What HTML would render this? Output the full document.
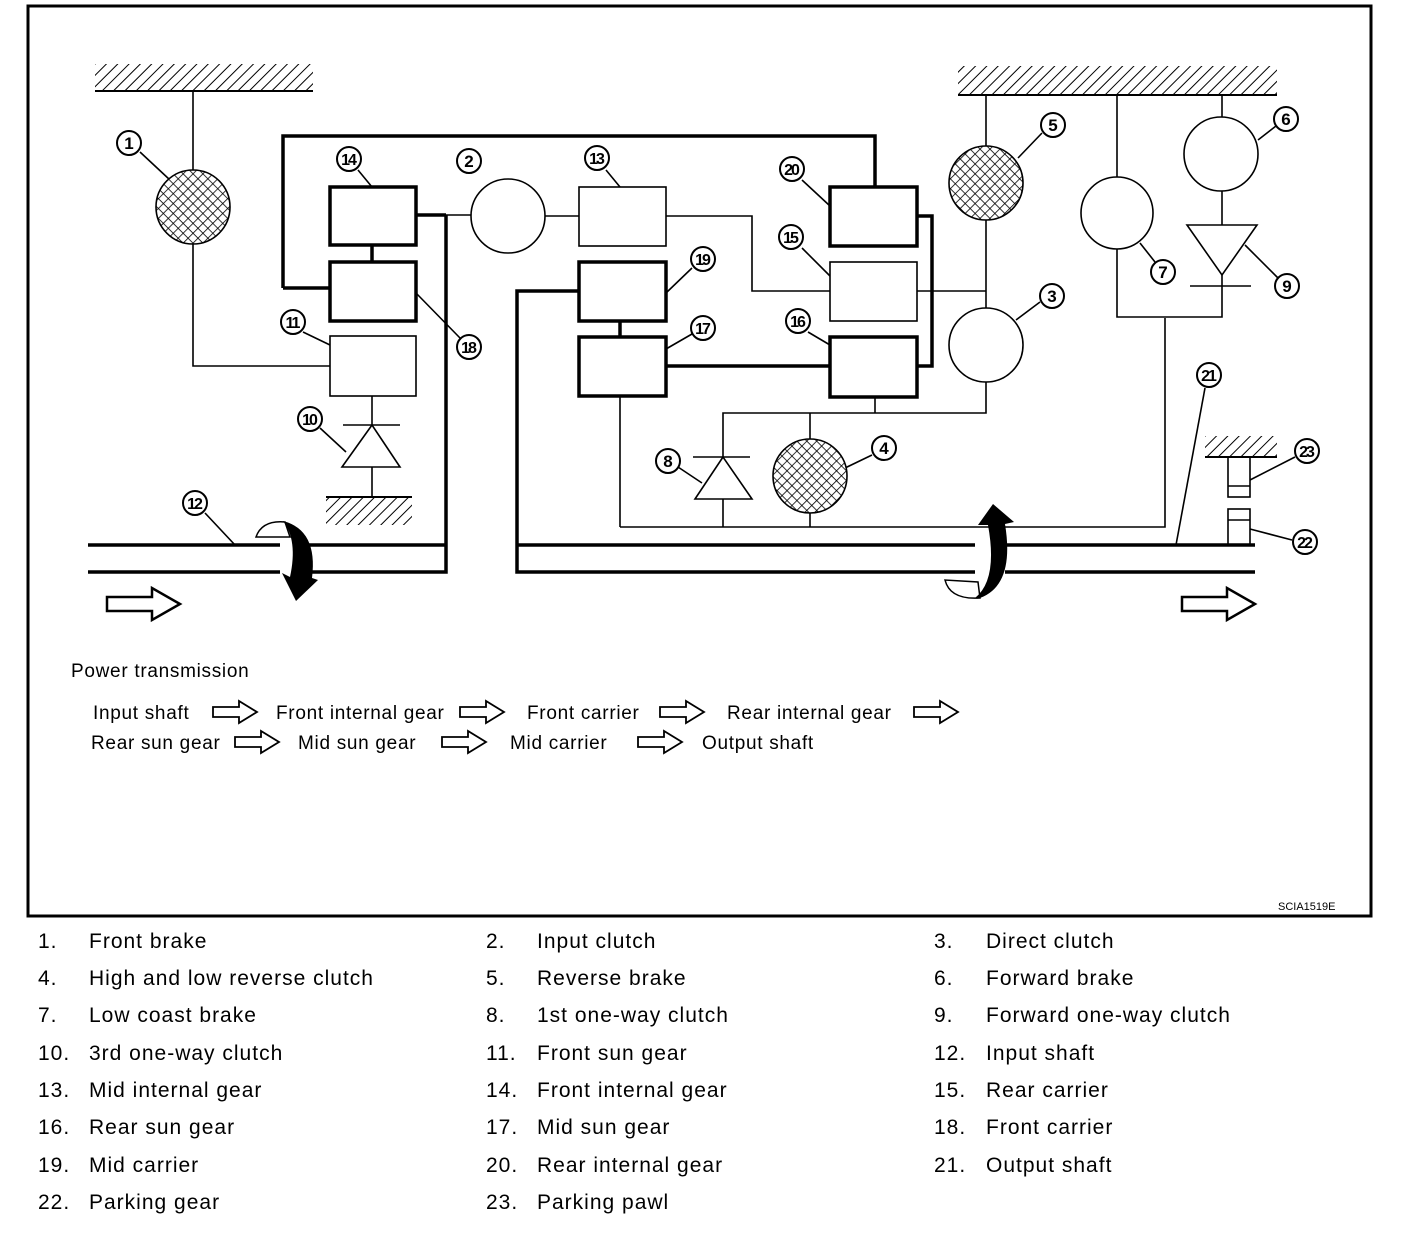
<!DOCTYPE html>
<html><head><meta charset="utf-8"><style>
html,body{margin:0;padding:0;background:#fff}
svg{display:block}
text{font-family:"Liberation Sans",Arial,sans-serif;fill:#000}
.lb{font-weight:bold;font-size:17px;text-anchor:middle}
</style></head><body>
<svg width="1408" height="1256" viewBox="0 0 1408 1256" xmlns="http://www.w3.org/2000/svg">
<defs>
<pattern id="hatch" width="8" height="8" patternUnits="userSpaceOnUse" patternTransform="rotate(45)">
<line x1="0" y1="0" x2="0" y2="8" stroke="#000" stroke-width="2"/></pattern>
<pattern id="cross" width="7" height="7" patternUnits="userSpaceOnUse" patternTransform="rotate(45)">
<rect width="7" height="7" fill="#fff"/>
<line x1="0" y1="0" x2="0" y2="7" stroke="#000" stroke-width="1.6"/>
<line x1="0" y1="0" x2="7" y2="0" stroke="#000" stroke-width="1.6"/></pattern>
<g id="harrow"><path d="M0,-7 H45 V-16 L73,0 L45,16 V7 H0 Z" fill="#fff" stroke="#000" stroke-width="2.5"/></g>
<g id="sarrow"><path d="M0,-5 H26 V-11 L44,0 L26,11 V5 H0 Z" fill="#fff" stroke="#000" stroke-width="1.8"/></g>
</defs>
<rect x="28" y="6" width="1343" height="910" fill="none" stroke="#000" stroke-width="3"/>

<rect x="95" y="64" width="218" height="27" fill="url(#hatch)"/><line x1="95" y1="91" x2="313" y2="91" stroke="#000" stroke-width="2"/>
<rect x="958" y="66" width="319" height="28" fill="url(#hatch)"/><line x1="958" y1="95" x2="1277" y2="95" stroke="#000" stroke-width="2"/>
<rect x="326" y="498" width="86" height="27" fill="url(#hatch)"/><line x1="326" y1="497" x2="412" y2="497" stroke="#000" stroke-width="2"/>
<rect x="1205" y="436" width="72" height="21" fill="url(#hatch)"/><line x1="1205" y1="457" x2="1277" y2="457" stroke="#000" stroke-width="2"/>

<g fill="none" stroke="#000" stroke-width="1.6">
<line x1="193" y1="91" x2="193" y2="170"/>
<polyline points="193,244 193,366 330,366"/>
<line x1="372" y1="396" x2="372" y2="497"/>
<line x1="343" y1="425" x2="400" y2="425"/>
<polygon points="372,425 342,467 400,467" fill="#fff"/>
<line x1="416" y1="215" x2="471" y2="215"/>
<line x1="545" y1="216" x2="579" y2="216"/>
<polyline points="666,216 752,216 752,291 830,291"/>
<line x1="917" y1="291" x2="986" y2="291"/>
<line x1="620" y1="396" x2="620" y2="527"/>
<polyline points="620,527 1165,527 1165,318"/>
<line x1="875" y1="397" x2="875" y2="413"/>
<polyline points="723,527 723,413 986,413 986,382"/>
<line x1="693" y1="457" x2="750" y2="457"/>
<polygon points="723,457 695,499 752,499" fill="#fff"/>
<line x1="810" y1="413" x2="810" y2="527"/>
<line x1="986" y1="95" x2="986" y2="308"/>
<line x1="1117" y1="95" x2="1117" y2="177"/>
<polyline points="1117,249 1117,317 1222,317 1222,275"/>
<line x1="1222" y1="95" x2="1222" y2="117"/>
<line x1="1222" y1="191" x2="1222" y2="225"/>
<polygon points="1187,225 1257,225 1222,275" fill="#fff"/>
<line x1="1190" y1="286" x2="1251" y2="286"/>
<rect x="1228" y="457" width="22" height="40"/><line x1="1228" y1="486" x2="1250" y2="486"/>
<rect x="1228" y="509" width="22" height="36"/><line x1="1228" y1="520" x2="1250" y2="520"/>
<line x1="140" y1="152" x2="170" y2="180"/>
<line x1="358" y1="170" x2="372" y2="187"/>
<line x1="416" y1="293" x2="460" y2="338"/>
<line x1="303" y1="332" x2="330" y2="345"/>
<line x1="320" y1="428" x2="346" y2="452"/>
<line x1="205" y1="513" x2="235" y2="545"/>
<line x1="606" y1="170" x2="620" y2="187"/>
<line x1="802" y1="180" x2="830" y2="206"/>
<line x1="802" y1="248" x2="830" y2="276"/>
<line x1="808" y1="332" x2="830" y2="345"/>
<line x1="666" y1="293" x2="692" y2="268"/>
<line x1="666" y1="349" x2="692" y2="334"/>
<line x1="678" y1="467" x2="702" y2="483"/>
<line x1="872" y1="455" x2="845" y2="468"/>
<line x1="1042" y1="133" x2="1018" y2="158"/>
<line x1="1040" y1="302" x2="1016" y2="320"/>
<line x1="1140" y1="243" x2="1155" y2="262"/>
<line x1="1258" y1="140" x2="1276" y2="126"/>
<line x1="1245" y1="245" x2="1278" y2="278"/>
<line x1="1205" y1="388" x2="1176" y2="545"/>
<line x1="1250" y1="480" x2="1295" y2="457"/>
<line x1="1250" y1="529" x2="1292" y2="540"/>
<rect x="330" y="336" width="86" height="60" fill="#fff"/>
<rect x="579" y="187" width="87" height="59" fill="#fff"/>
<rect x="830" y="262" width="87" height="59" fill="#fff"/>
<circle cx="508" cy="216" r="37" fill="#fff"/>
<circle cx="986" cy="345" r="37" fill="#fff"/>
<circle cx="1117" cy="213" r="36" fill="#fff"/>
<circle cx="1221" cy="154" r="37" fill="#fff"/>
<circle cx="193" cy="207" r="37" fill="url(#cross)"/>
<circle cx="986" cy="183" r="37" fill="url(#cross)"/>
<circle cx="810" cy="476" r="37" fill="url(#cross)"/>
</g>

<g fill="none" stroke="#000" stroke-width="3.5">
<polyline points="283,288 283,136 875,136 875,187"/>
<line x1="283" y1="288" x2="330" y2="288"/>
<rect x="330" y="187" width="86" height="58"/>
<rect x="330" y="262" width="86" height="59"/>
<line x1="372" y1="245" x2="372" y2="262"/>
<rect x="830" y="187" width="87" height="59"/>
<rect x="830" y="337" width="87" height="60"/>
<polyline points="917,216 932,216 932,366 917,366"/>
<rect x="579" y="262" width="87" height="59"/>
<rect x="579" y="337" width="87" height="59"/>
<line x1="620" y1="321" x2="620" y2="337"/>
<line x1="666" y1="366" x2="830" y2="366"/>
<polyline points="579,291 517,291 517,572 1255,572"/>
<line x1="517" y1="545" x2="1255" y2="545"/>
<line x1="88" y1="545" x2="446" y2="545"/>
<polyline points="88,572 446,572 446,215"/>
<line x1="416" y1="215" x2="446" y2="215"/>
</g>

<g>
<rect x="280" y="536" width="26" height="42" fill="#fff"/>
<path d="M256,537 Q262,520 285,522 L290,537 Z" fill="#fff" stroke="#000" stroke-width="1.5"/>
<path d="M283,521 Q318,530 312,578 L318,580 L296,601 L282,573 L290,577 Q298,540 283,521 Z" fill="#000"/>
<rect x="975" y="537" width="30" height="44" fill="#fff"/>
<path d="M945,580 Q950,600 980,598 L978,582 Z" fill="#fff" stroke="#000" stroke-width="1.5"/>
<path d="M980,598 Q1015,585 1005,524 L1014,522 L993,504 L978,525 L988,525 Q998,580 975,598 Z" fill="#000"/>
</g>

<use href="#harrow" x="107" y="604"/>
<use href="#harrow" x="1182" y="604"/>

<g fill="#fff" stroke="#000" stroke-width="2">
<circle cx="129" cy="143" r="12"/><circle cx="349" cy="159" r="12"/><circle cx="469" cy="161" r="12"/>
<circle cx="469" cy="347" r="12"/><circle cx="293" cy="322" r="12"/><circle cx="310" cy="419" r="12"/>
<circle cx="195" cy="503" r="12"/><circle cx="597" cy="158" r="12"/><circle cx="792" cy="169" r="12"/>
<circle cx="791" cy="237" r="12"/><circle cx="798" cy="321" r="12"/><circle cx="703" cy="259" r="12"/>
<circle cx="703" cy="328" r="12"/><circle cx="668" cy="461" r="12"/><circle cx="884" cy="448" r="12"/>
<circle cx="1053" cy="125" r="12"/><circle cx="1052" cy="296" r="12"/><circle cx="1163" cy="272" r="12"/>
<circle cx="1286" cy="119" r="12"/><circle cx="1287" cy="286" r="12"/><circle cx="1209" cy="375" r="12"/>
<circle cx="1307" cy="451" r="12"/><circle cx="1305" cy="542" r="12"/>
</g>
<g>
<text x="129" y="149" class="lb">1</text><text x="469" y="167" class="lb">2</text><text x="668" y="467" class="lb">8</text>
<text x="884" y="454" class="lb">4</text><text x="1053" y="131" class="lb">5</text><text x="1052" y="302" class="lb">3</text>
<text x="1163" y="278" class="lb">7</text><text x="1286" y="125" class="lb">6</text><text x="1287" y="292" class="lb">9</text>
</g>
<g font-size="16" font-weight="bold" text-anchor="middle" letter-spacing="-2">
<text x="348" y="165">14</text><text x="468" y="353">18</text><text x="292" y="328">11</text>
<text x="309" y="425">10</text><text x="194" y="509">12</text><text x="596" y="164">13</text>
<text x="791" y="175">20</text><text x="790" y="243">15</text><text x="797" y="327">16</text>
<text x="702" y="265">19</text><text x="702" y="334">17</text><text x="1208" y="381">21</text>
<text x="1306" y="457">23</text><text x="1304" y="548">22</text>
</g>

<g font-size="19" letter-spacing="0.7">
<text x="71" y="677">Power transmission</text>
<text x="93" y="719">Input shaft</text><text x="276" y="719">Front internal gear</text>
<text x="527" y="719">Front carrier</text><text x="727" y="719">Rear internal gear</text>
<text x="91" y="749">Rear sun gear</text><text x="298" y="749">Mid sun gear</text>
<text x="510" y="749">Mid carrier</text><text x="702" y="749">Output shaft</text>
</g>
<use href="#sarrow" x="213" y="712"/><use href="#sarrow" x="460" y="712"/>
<use href="#sarrow" x="660" y="712"/><use href="#sarrow" x="914" y="712"/>
<use href="#sarrow" x="235" y="742"/><use href="#sarrow" x="442" y="742"/>
<use href="#sarrow" x="638" y="742"/>
<text x="1278" y="910" font-size="11">SCIA1519E</text>

<g font-size="21" letter-spacing="1">
<text x="38" y="948">1.</text><text x="89" y="948">Front brake</text>
<text x="486" y="948">2.</text><text x="537" y="948">Input clutch</text>
<text x="934" y="948">3.</text><text x="986" y="948">Direct clutch</text>
<text x="38" y="985">4.</text><text x="89" y="985">High and low reverse clutch</text>
<text x="486" y="985">5.</text><text x="537" y="985">Reverse brake</text>
<text x="934" y="985">6.</text><text x="986" y="985">Forward brake</text>
<text x="38" y="1022">7.</text><text x="89" y="1022">Low coast brake</text>
<text x="486" y="1022">8.</text><text x="537" y="1022">1st one-way clutch</text>
<text x="934" y="1022">9.</text><text x="986" y="1022">Forward one-way clutch</text>
<text x="38" y="1060">10.</text><text x="89" y="1060">3rd one-way clutch</text>
<text x="486" y="1060">11.</text><text x="537" y="1060">Front sun gear</text>
<text x="934" y="1060">12.</text><text x="986" y="1060">Input shaft</text>
<text x="38" y="1097">13.</text><text x="89" y="1097">Mid internal gear</text>
<text x="486" y="1097">14.</text><text x="537" y="1097">Front internal gear</text>
<text x="934" y="1097">15.</text><text x="986" y="1097">Rear carrier</text>
<text x="38" y="1134">16.</text><text x="89" y="1134">Rear sun gear</text>
<text x="486" y="1134">17.</text><text x="537" y="1134">Mid sun gear</text>
<text x="934" y="1134">18.</text><text x="986" y="1134">Front carrier</text>
<text x="38" y="1172">19.</text><text x="89" y="1172">Mid carrier</text>
<text x="486" y="1172">20.</text><text x="537" y="1172">Rear internal gear</text>
<text x="934" y="1172">21.</text><text x="986" y="1172">Output shaft</text>
<text x="38" y="1209">22.</text><text x="89" y="1209">Parking gear</text>
<text x="486" y="1209">23.</text><text x="537" y="1209">Parking pawl</text>
</g>
</svg>
</body></html>
